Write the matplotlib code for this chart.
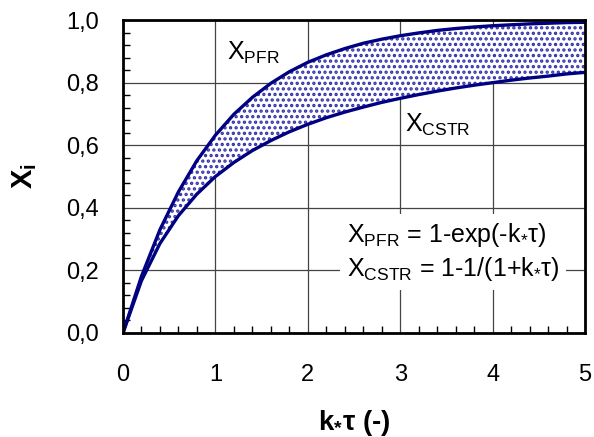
import matplotlib
matplotlib.use("Agg")
import matplotlib.pyplot as plt
from matplotlib.ticker import MultipleLocator, FuncFormatter

# Data (k*tau vs conversion)
k_tau = [0.0, 0.2, 0.4, 0.6, 0.8, 1.0, 1.2, 1.4, 1.6, 1.8, 2.0, 2.2, 2.4,
         2.6, 2.8, 3.0, 3.2, 3.4, 3.6, 3.8, 4.0, 4.2, 4.4, 4.6, 4.8, 5.0]
x_pfr = [0.000, 0.181, 0.330, 0.451, 0.551, 0.632, 0.699, 0.753, 0.798,
         0.835, 0.865, 0.889, 0.909, 0.926, 0.939, 0.950, 0.959, 0.967,
         0.973, 0.978, 0.982, 0.985, 0.988, 0.990, 0.992, 0.993]
x_cstr = [0.000, 0.167, 0.286, 0.375, 0.444, 0.500, 0.545, 0.583, 0.615,
          0.643, 0.667, 0.688, 0.706, 0.722, 0.737, 0.750, 0.762, 0.773,
          0.783, 0.792, 0.800, 0.808, 0.815, 0.821, 0.828, 0.833]
x_ticks = [0, 1, 2, 3, 4, 5]
y_ticks = [0.0, 0.2, 0.4, 0.6, 0.8, 1.0]

plt.rcParams['font.family'] = ['Liberation Sans', 'DejaVu Sans']
plt.rcParams['mathtext.fontset'] = 'custom'
plt.rcParams['mathtext.rm'] = 'Liberation Sans'
plt.rcParams['mathtext.it'] = 'Liberation Sans'
plt.rcParams['mathtext.bf'] = 'Liberation Sans:bold'
plt.rcParams['hatch.linewidth'] = 1.6
plt.rcParams['hatch.color'] = '#3030a8'

navy = '#000080'
fig = plt.figure(figsize=(5.94, 4.37), dpi=100)
ax = fig.add_axes([0.207, 0.238, 0.778, 0.716])

ax.fill_between(k_tau, x_cstr, x_pfr, facecolor='white', edgecolor='#3030a8',
                hatch='...', linewidth=0, zorder=2)
ax.plot(k_tau, x_pfr, color=navy, lw=2.4, zorder=3)
ax.plot(k_tau, x_cstr, color=navy, lw=2.4, zorder=3)

ax.set_xlim(0, 5)
ax.set_ylim(0, 1)
ax.set_xticks(x_ticks)
ax.set_yticks(y_ticks)
ax.xaxis.set_minor_locator(MultipleLocator(0.2))
ax.yaxis.set_minor_locator(MultipleLocator(0.04))
ax.yaxis.set_major_formatter(FuncFormatter(lambda v, p: f"{v:.1f}".replace('.', ',')))
ax.xaxis.set_major_formatter(FuncFormatter(lambda v, p: f"{v:.0f}"))
ax.grid(True, which='major', color='#444444', lw=0.9, zorder=1)
ax.set_axisbelow(True)
ax.tick_params(which='both', direction='in', top=False, right=False)
ax.tick_params(which='major', length=0, labelsize=17)
ax.tick_params(axis='x', which='major', pad=22)
ax.tick_params(axis='y', which='major', pad=17)
ax.tick_params(which='minor', length=5, width=1, color='black')
for s in ax.spines.values():
    s.set_linewidth(2)
    s.set_zorder(5)

ax.set_xlabel(r'$\mathbf{k_{*}\tau}$ (-)', fontsize=20, fontweight='bold', labelpad=16)
ax.set_ylabel(r'$\mathbf{X_i}$', fontsize=21, labelpad=20)

ax.text(1.13, 0.895, r'$\mathregular{X_{PFR}}$', fontsize=18, va='center', zorder=4)
ax.text(3.05, 0.665, r'$\mathregular{X_{CSTR}}$', fontsize=18, va='center', zorder=4)

formula = (r'$\mathregular{X_{PFR}}$ = 1-exp(-k$\mathregular{_{*}}$τ)' + '\n' +
           r'$\mathregular{X_{CSTR}}$ = 1-1/(1+k$\mathregular{_{*}}$τ)')
ax.text(2.42, 0.258, formula, fontsize=18, va='center', ha='left', zorder=4,
        linespacing=1.3,
        bbox=dict(facecolor='white', edgecolor='none', pad=5))

fig.savefig('out.png', dpi=100)
